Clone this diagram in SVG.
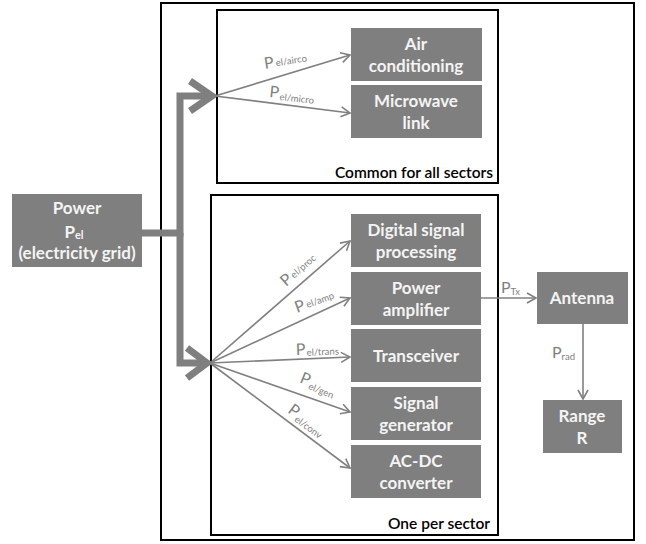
<svg xmlns="http://www.w3.org/2000/svg" width="646" height="544" viewBox="0 0 646 544">
<style>
.frame{fill:none;stroke:#000;stroke-width:2}
.box{fill:#7f7f7f}
.bt{fill:#f4f4f4;font-family:Lato,"Open Sans",sans-serif;font-weight:bold;font-size:17px;text-anchor:middle}
.lbl{fill:#808080;font-family:Lato,"Open Sans",sans-serif;font-size:16px}
.sub{font-size:9.5px}
.thin{fill:none;stroke:#808080;stroke-width:1.6}
.thick{fill:none;stroke:#7f7f7f;stroke-width:7;stroke-linejoin:miter}
.cap{fill:#000;font-family:Lato,"Open Sans",sans-serif;font-weight:600;font-size:15.5px;text-anchor:end}
</style>
<defs>
<marker id="ah" markerUnits="userSpaceOnUse" markerWidth="14" markerHeight="14" refX="10" refY="6" orient="auto">
<path d="M1,1 L10,6 L1,11" fill="none" stroke="#808080" stroke-width="1.6"/>
</marker>
</defs>
<rect class="frame" x="161" y="3" width="473" height="537"/>
<rect class="frame" x="217" y="10" width="281" height="173"/>
<rect class="frame" x="211" y="195" width="287" height="340"/>
<text class="cap" x="493" y="178">Common for all sectors</text>
<text class="cap" x="490" y="529">One per sector</text>
<g id="connectors">
<path class="thick" d="M142,233 H180 V96 H211"/>
<path class="thick" d="M180,233 V363 H206"/>
<path class="thick" d="M190,81 L212,96 L190,111"/>
<path class="thick" d="M187,348 L207,363 L187,378"/>
<line class="thin" x1="215" y1="96" x2="350" y2="55" marker-end="url(#ah)"/>
<line class="thin" x1="215" y1="96" x2="350" y2="113" marker-end="url(#ah)"/>
<line class="thin" x1="210" y1="363" x2="350" y2="241" marker-end="url(#ah)"/>
<line class="thin" x1="210" y1="363" x2="350" y2="298" marker-end="url(#ah)"/>
<line class="thin" x1="210" y1="363" x2="350" y2="357" marker-end="url(#ah)"/>
<line class="thin" x1="210" y1="363" x2="350" y2="412" marker-end="url(#ah)"/>
<line class="thin" x1="210" y1="363" x2="350" y2="468" marker-end="url(#ah)"/>
<line class="thin" x1="481" y1="298" x2="536" y2="298" marker-end="url(#ah)"/>
<line class="thin" x1="583" y1="324" x2="583" y2="399" marker-end="url(#ah)"/>
<text class="lbl" transform="translate(265,69) rotate(-9)">P<tspan class="sub" dx="2" dy="-1">el/airco</tspan></text>
<text class="lbl" transform="translate(269,97) rotate(6)">P<tspan class="sub" dx="1" dy="2">el/micro</tspan></text>
<text class="lbl" transform="translate(286,287) rotate(-41)">P<tspan class="sub" dx="2" dy="-1">el/proc</tspan></text>
<text class="lbl" transform="translate(297,313) rotate(-20)">P<tspan class="sub" dx="2" dy="-1">el/amp</tspan></text>
<text class="lbl" transform="translate(296,355) rotate(-2)">P<tspan class="sub" dx="1" dy="1">el/trans</tspan></text>
<text class="lbl" transform="translate(299,382) rotate(22)">P<tspan class="sub" dx="1" dy="3">el/gen</tspan></text>
<text class="lbl" transform="translate(287,412) rotate(36)">P<tspan class="sub" dx="1" dy="3">el/conv</tspan></text>
<text class="lbl" x="501" y="293">P<tspan class="sub" dy="2">Tx</tspan></text>
<text class="lbl" x="552" y="358">P<tspan class="sub" dy="2">rad</tspan></text>
</g>
<g id="power"><rect class="box" x="12" y="194" width="130" height="73"/>
<text class="bt" x="77" y="214">Power</text>
<text class="bt" x="74" y="238">P<tspan font-size="11" dy="1">el</tspan></text>
<text class="bt" x="77" y="259">(electricity grid)</text></g>
<g id="airco"><rect class="box" x="351" y="28" width="131" height="53"/>
<text class="bt" x="416" y="50">Air</text><text class="bt" x="416" y="72">conditioning</text></g>
<g id="micro"><rect class="box" x="351" y="85" width="131" height="53"/>
<text class="bt" x="416" y="107">Microwave</text><text class="bt" x="416" y="129">link</text></g>
<g id="dsp"><rect class="box" x="351" y="214" width="130" height="53"/>
<text class="bt" x="416" y="236">Digital signal</text><text class="bt" x="416" y="258">processing</text></g>
<g id="pa"><rect class="box" x="351" y="272" width="130" height="53"/>
<text class="bt" x="416" y="294">Power</text><text class="bt" x="416" y="316">amplifier</text></g>
<g id="trx"><rect class="box" x="351" y="329" width="130" height="53"/>
<text class="bt" x="416" y="362">Transceiver</text></g>
<g id="siggen"><rect class="box" x="351" y="387" width="130" height="53"/>
<text class="bt" x="416" y="409">Signal</text><text class="bt" x="416" y="431">generator</text></g>
<g id="acdc"><rect class="box" x="351" y="445" width="130" height="53"/>
<text class="bt" x="416" y="467">AC-DC</text><text class="bt" x="416" y="489">converter</text></g>
<g id="antenna"><rect class="box" x="537" y="272" width="91" height="52"/>
<text class="bt" x="582" y="304">Antenna</text></g>
<g id="range"><rect class="box" x="543" y="400" width="79" height="53"/>
<text class="bt" x="582" y="422">Range</text><text class="bt" x="582" y="444">R</text></g>
</svg>
